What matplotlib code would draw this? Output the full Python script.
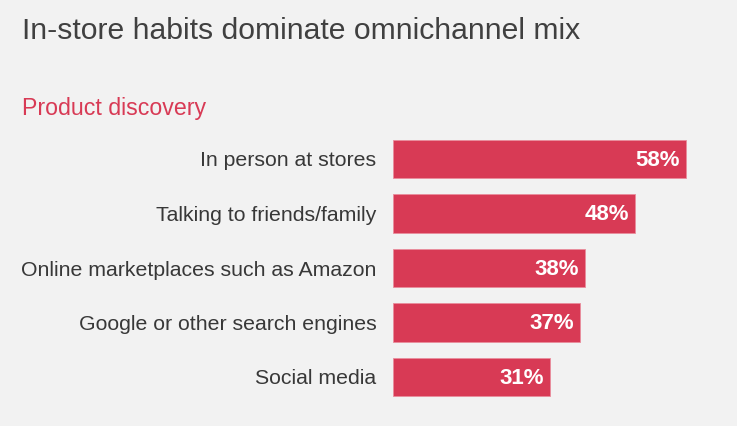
import matplotlib.pyplot as plt

# values
categories = ["In person at stores", "Talking to friends/family",
              "Online marketplaces such as Amazon",
              "Google or other search engines", "Social media"]
values = [58, 48, 38, 37, 31]

W, H = 737, 426
bg = "#f2f2f2"
red = "#d83a55"

plt.rcParams["font.family"] = ["Liberation Sans", "DejaVu Sans"]

fig = plt.figure(figsize=(W / 100, H / 100), dpi=100, facecolor=bg)

# title and subtitle
fig.text(22 / W, 1 - 39 / H, "In-store habits dominate omnichannel mix",
         fontsize=21.7, color="#404040", va="baseline", ha="left")
fig.text(22 / W, 1 - 115 / H, "Product discovery",
         fontsize=16.7, color=red, va="baseline", ha="left")

# bars area: x from 393 px, 5.05 px per percent
left = 393
xmax = 68
ax = fig.add_axes([left / W, 1 - 404.25 / H, 5.05 * xmax / W, 272.5 / H])
ax.set_facecolor(bg)

pos = list(range(len(categories)))
ax.barh(pos, values, height=0.70, color=red, edgecolor="#e98d9c", linewidth=0.6)
ax.set_ylim(len(categories) - 0.5, -0.5)
ax.set_xlim(0, xmax)

for p, v in zip(pos, values):
    ax.text(v - 1.2, p + 0.02, f"{v}%", ha="right", va="center",
            color="white", fontsize=16, fontweight="bold")

ax.set_yticks(pos)
ax.set_yticklabels(categories, fontsize=15.3, color="#383838")
ax.tick_params(axis="y", length=0, pad=12)
ax.set_xticks([])
for s in ax.spines.values():
    s.set_visible(False)

fig.savefig("out.png", dpi=100, facecolor=bg)
